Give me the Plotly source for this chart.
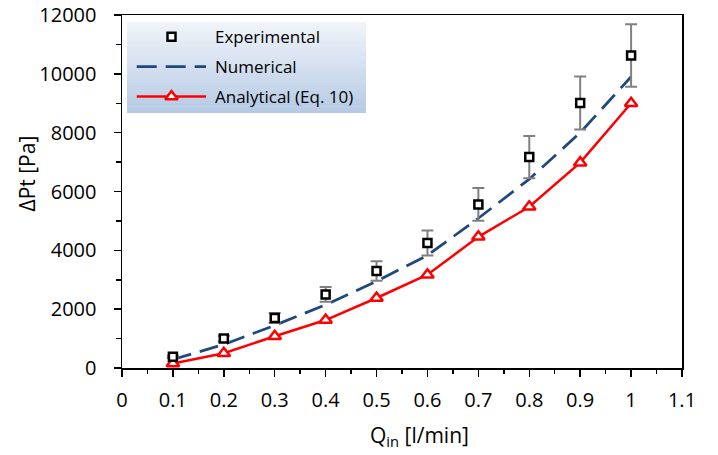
import plotly.graph_objects as go

# ---------------- data ----------------
q_in = [0.1, 0.2, 0.3, 0.4, 0.5, 0.6, 0.7, 0.8, 0.9, 1.0]
experimental = [380, 1000, 1700, 2500, 3300, 4250, 5560, 7170, 9010, 10620]
experimental_err = [38, 100, 170, 250, 330, 425, 556, 717, 901, 1062]
numerical = [290, 800, 1450, 2150, 2950, 3830, 5090, 6420, 8000, 9900]
analytical = [150, 500, 1080, 1630, 2380, 3170, 4460, 5480, 6980, 9000]

x_ticks = [0, 0.1, 0.2, 0.3, 0.4, 0.5, 0.6, 0.7, 0.8, 0.9, 1.0, 1.1]
x_tick_labels = ["0", "0.1", "0.2", "0.3", "0.4", "0.5", "0.6", "0.7", "0.8", "0.9", "1", "1.1"]
y_ticks = [0, 2000, 4000, 6000, 8000, 10000, 12000]
y_tick_labels = ["0", "2000", "4000", "6000", "8000", "10000", "12000"]

legend_names = ["Experimental", "Numerical", "Analytical (Eq. 10)"]

# ---------------- style ----------------
FONT = "Open Sans"
BLUE = "#1F497D"
RED = "#FF0000"
GREY = "#808080"
W, H = 718, 455
ML, MR, MT, MB = 122, 36, 15, 87
PW, PH = W - ML - MR, H - MT - MB
X_RANGE = [0, 1.1]
Y_RANGE = [0, 12000]


# helpers take positions in picture pixels
def px_x(p):
    return (p - ML) / PW


def px_y(p):
    return (H - MB - p) / PH


def data_x(p):
    return X_RANGE[0] + px_x(p) * (X_RANGE[1] - X_RANGE[0])


def data_y(p):
    return Y_RANGE[0] + px_y(p) * (Y_RANGE[1] - Y_RANGE[0])


fig = go.Figure()

fig.add_trace(go.Scatter(
    x=q_in, y=analytical, mode="lines+markers", name=legend_names[2],
    line=dict(color=RED, width=2.5),
    marker=dict(symbol="triangle-up", size=11, color="white",
                line=dict(color=RED, width=2.5)),
    showlegend=False, cliponaxis=False))

fig.add_trace(go.Scatter(
    x=q_in, y=numerical, mode="lines", name=legend_names[1],
    line=dict(color=BLUE, width=2.75, dash="19px,9px"),
    showlegend=False))

fig.add_trace(go.Scatter(
    x=q_in, y=experimental, mode="markers", name=legend_names[0],
    marker=dict(symbol="square", size=8, color="white",
                line=dict(color="black", width=2.5)),
    error_y=dict(type="data", array=experimental_err, visible=True,
                 color=GREY, thickness=2, width=6),
    showlegend=False, cliponaxis=False))

# ---------------- manual legend ----------------
shapes = []
box_x0, box_x1, box_y0, box_y1 = 127, 366, 22, 113
n_strips = 40
top_rgb = (240, 244, 250)
bot_rgb = (182, 202, 228)
for i in range(n_strips):
    t = i / (n_strips - 1)
    r = round(top_rgb[0] + (bot_rgb[0] - top_rgb[0]) * t)
    g = round(top_rgb[1] + (bot_rgb[1] - top_rgb[1]) * t)
    b = round(top_rgb[2] + (bot_rgb[2] - top_rgb[2]) * t)
    ya = box_y0 + (box_y1 - box_y0) * i / n_strips
    yb = box_y0 + (box_y1 - box_y0) * (i + 1) / n_strips + 0.6
    shapes.append(dict(type="rect", xref="paper", yref="paper",
                       x0=px_x(box_x0), x1=px_x(box_x1),
                       y0=px_y(min(yb, box_y1)), y1=px_y(ya),
                       fillcolor=f"rgb({r},{g},{b})", line=dict(width=0),
                       layer="below"))

row_y = [36.7, 66.7, 96.5]
sample_x0, sample_x1, sample_mid = 136.7, 206, 171.5
text_x = 212.5

shapes.append(dict(type="line", xref="paper", yref="paper",
                   x0=px_x(sample_x0), x1=px_x(sample_x1),
                   y0=px_y(row_y[1]), y1=px_y(row_y[1]),
                   line=dict(color=BLUE, width=2.75, dash="20px,9px"), layer="below"))
shapes.append(dict(type="line", xref="paper", yref="paper",
                   x0=px_x(sample_x0), x1=px_x(sample_x1),
                   y0=px_y(row_y[2]), y1=px_y(row_y[2]),
                   line=dict(color=RED, width=2.5), layer="below"))

# legend marker samples (legend layout positions, not data)
fig.add_trace(go.Scatter(
    x=[data_x(sample_mid)], y=[data_y(row_y[0])], mode="markers",
    marker=dict(symbol="square", size=8, color="white", line=dict(color="black", width=2.5)),
    showlegend=False, hoverinfo="skip"))
fig.add_trace(go.Scatter(
    x=[data_x(sample_mid)], y=[data_y(row_y[2])], mode="markers",
    marker=dict(symbol="triangle-up", size=11, color="white", line=dict(color=RED, width=2.5)),
    showlegend=False, hoverinfo="skip"))

annotations = []
for name, ry in zip(legend_names, row_y):
    annotations.append(dict(xref="paper", yref="paper", x=px_x(text_x), y=px_y(ry),
                            text=name, showarrow=False, xanchor="left", yanchor="middle",
                            font=dict(family=FONT, size=17, color="black")))

# axis titles
annotations.append(dict(xref="paper", yref="paper", x=px_x(26), y=px_y(173.5),
                        text="ΔPt [Pa]", textangle=-90, showarrow=False,
                        xanchor="center", yanchor="middle",
                        font=dict(family=FONT, size=21, color="black")))
annotations.append(dict(xref="paper", yref="paper", x=px_x(419), y=px_y(436),
                        text="Q<sub>in</sub> [l/min]", showarrow=False,
                        xanchor="center", yanchor="middle",
                        font=dict(family=FONT, size=21, color="black")))

fig.update_layout(
    width=W, height=H,
    margin=dict(l=ML, r=MR, t=MT, b=MB, pad=0, autoexpand=False),
    paper_bgcolor="white", plot_bgcolor="white",
    font=dict(family=FONT, size=20, color="black"),
    showlegend=False, hovermode=False,
    shapes=shapes, annotations=annotations,
    xaxis=dict(range=X_RANGE, tickvals=x_ticks, ticktext=x_tick_labels,
               automargin=False,
               showgrid=False, zeroline=False,
               showline=True, linecolor="black", linewidth=1.5, mirror=True,
               ticks="outside", ticklen=7, tickwidth=1.5, tickcolor="black",
               ticklabelstandoff=6,
               minor=dict(dtick=0.05, ticks="outside", ticklen=4, tickwidth=1.5,
                          tickcolor="black", showgrid=False),
               tickfont=dict(family=FONT, size=20, color="black")),
    yaxis=dict(range=Y_RANGE, tickvals=y_ticks, ticktext=y_tick_labels,
               automargin=False,
               showgrid=False, zeroline=False,
               showline=True, linecolor="black", linewidth=1.5, mirror=True,
               ticks="outside", ticklen=7, tickwidth=1.5, tickcolor="black",
               ticklabelstandoff=13,
               minor=dict(dtick=1000, ticks="outside", ticklen=5, tickwidth=1.5,
                          tickcolor="black", showgrid=False),
               tickfont=dict(family=FONT, size=20, color="black")),
)

# remove the default page margin so the figure fills the window exactly
fig.write_html("out.html",
               config={"displayModeBar": False, "staticPlot": True},
               post_script="document.body.style.margin='0';document.body.style.overflow='hidden';")
